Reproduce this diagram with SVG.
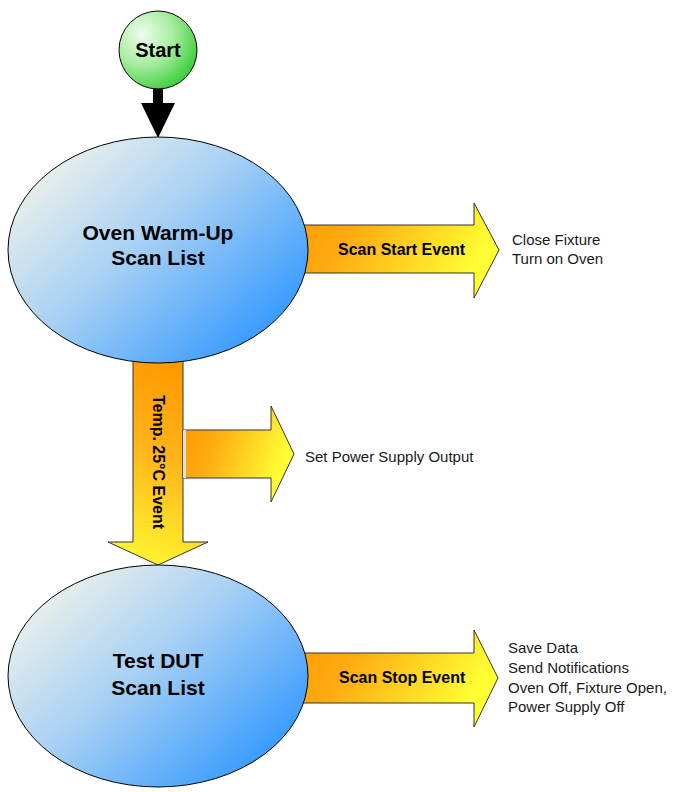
<svg xmlns="http://www.w3.org/2000/svg" width="673" height="792" viewBox="0 0 673 792">
<style>
.big{font-family:"Liberation Sans",Arial,sans-serif;font-weight:bold;font-size:21px;fill:#000;text-anchor:middle}
.lbl{font-family:"Liberation Sans",Arial,sans-serif;font-weight:bold;font-size:16px;fill:#000}
.note{font-family:"Liberation Sans",Arial,sans-serif;font-size:15px;fill:#1a1a1a}
.arrow{stroke:#333;stroke-width:1}
.ell{stroke:#000;stroke-width:1}
</style>
<defs>
<linearGradient id="gh" x1="0" y1="0" x2="1" y2="0.3">
<stop offset="0" stop-color="#ff9900"/>
<stop offset="0.35" stop-color="#ffaa11"/>
<stop offset="1" stop-color="#ffff33"/>
</linearGradient>
<linearGradient id="gv" x1="0.2" y1="0" x2="0" y2="1">
<stop offset="0" stop-color="#ff9900"/>
<stop offset="0.4" stop-color="#ffb319"/>
<stop offset="1" stop-color="#ffff33"/>
</linearGradient>
<linearGradient id="gb" x1="0.1" y1="0.1" x2="0.95" y2="0.8">
<stop offset="0" stop-color="#eef2ea"/>
<stop offset="0.45" stop-color="#a8d0f4"/>
<stop offset="1" stop-color="#3399ff"/>
</linearGradient>
<radialGradient id="gg" cx="0.3" cy="0.3" r="0.8">
<stop offset="0" stop-color="#eefcee"/>
<stop offset="0.5" stop-color="#a6ec9e"/>
<stop offset="1" stop-color="#33cc33"/>
</radialGradient>
</defs>
<g id="connectors">
<polygon id="scan-start-arrow" class="arrow" fill="url(#gh)" points="290,225 474,225 474,203 499,250 474,298 474,273 290,273"/>
<polygon id="temp-arrow" class="arrow" fill="url(#gv)" points="133,345 183,345 183,542 208,542 158,565 108,542 133,542"/>
<polygon id="side-arrow" class="arrow" fill="url(#gh)" points="183,430 271,430 271,406 294,454 271,502 271,478 183,478"/>
<rect x="183" y="430" width="3" height="48" fill="#dddddd"/>
<polygon id="scan-stop-arrow" class="arrow" fill="url(#gh)" points="290,653 474,653 474,630 498,678 474,727 474,703 290,703"/>
<polygon id="start-arrow" fill="#000" points="153,88 163,88 163,103 175,103 158,138 141,103 153,103"/>
</g>
<g id="start">
<circle cx="158" cy="50" r="39" fill="url(#gg)" stroke="#000" stroke-width="1"/>
<text class="big" x="158" y="57" style="font-size:20px">Start</text>
</g>
<g id="oven-warmup">
<ellipse class="ell" cx="158" cy="250" rx="150" ry="113" fill="url(#gb)"/>
<text class="big" x="158" y="240">Oven Warm-Up</text>
<text class="big" x="158" y="265">Scan List</text>
</g>
<g id="test-dut">
<ellipse class="ell" cx="158" cy="676" rx="150" ry="111" fill="url(#gb)"/>
<text class="big" x="158" y="668">Test DUT</text>
<text class="big" x="158" y="695">Scan List</text>
</g>
<g id="labels">
<text class="lbl" x="338" y="255">Scan Start Event</text>
<text class="lbl" x="339" y="683">Scan Stop Event</text>
<text class="lbl" transform="translate(153,462) rotate(90)" text-anchor="middle">Temp. 25°C Event</text>
<text class="note" x="512" y="245">Close Fixture</text>
<text class="note" x="512" y="264">Turn on Oven</text>
<text class="note" x="305" y="462">Set Power Supply Output</text>
<text class="note" x="508" y="653">Save Data</text>
<text class="note" x="508" y="673">Send Notifications</text>
<text class="note" x="508" y="693">Oven Off, Fixture Open,</text>
<text class="note" x="508" y="712">Power Supply Off</text>
</g>
</svg>
